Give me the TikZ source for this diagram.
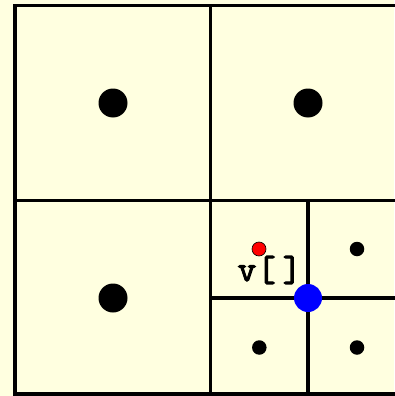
\documentclass[tikz,border=0pt]{standalone}
\usepackage{fontspec}
\newfontfamily\monob{Latin Modern Mono}[FakeBold=3]
\definecolor{bgyellow}{RGB}{255,255,224}
\definecolor{dotblue}{RGB}{0,0,255}
\definecolor{dotred}{RGB}{255,0,0}
\begin{document}
\begin{tikzpicture}[x=1pt,y=-1pt,
  grid/.style={draw=black,line width=3.4pt},
  bigdot/.style={circle,fill=black,minimum size=29pt,inner sep=0pt},
  smalldot/.style={circle,fill=black,minimum size=14.5pt,inner sep=0pt},
  reddot/.style={circle,fill=dotred,draw=black,line width=0.6pt,minimum size=14pt,inner sep=0pt},
  bluedot/.style={circle,fill=dotblue,minimum size=28pt,inner sep=0pt},
  lbl/.style={font=\monob\fontsize{36}{37}\selectfont,inner sep=0pt}]
\fill[bgyellow] (0,0) rectangle (394,396);
\useasboundingbox (0,0) rectangle (394,396);
\draw[grid] (15,5.5) rectangle (406,394);
\draw[grid] (210.5,5.5) -- (210.5,394);
\draw[grid] (15,200.5) -- (406,200.5);
\draw[grid] (308,200.5) -- (308,394);
\draw[grid] (210.5,298) -- (406,298);
\node[bigdot] (d1) at (113,103) {};
\node[bigdot] (d2) at (308,103) {};
\node[bigdot] (d3) at (113,298) {};
\node[smalldot] (s1) at (357,249) {};
\node[smalldot] (s2) at (259.3,347.5) {};
\node[smalldot] (s3) at (357,347.5) {};
\node[reddot] (r) at (259,249) {};
\node[bluedot] (b) at (308,298) {};
\node[lbl,anchor=base] (v) at (269.5,281) {v\kern1pt[\kern7pt]};
\end{tikzpicture}
\end{document}
